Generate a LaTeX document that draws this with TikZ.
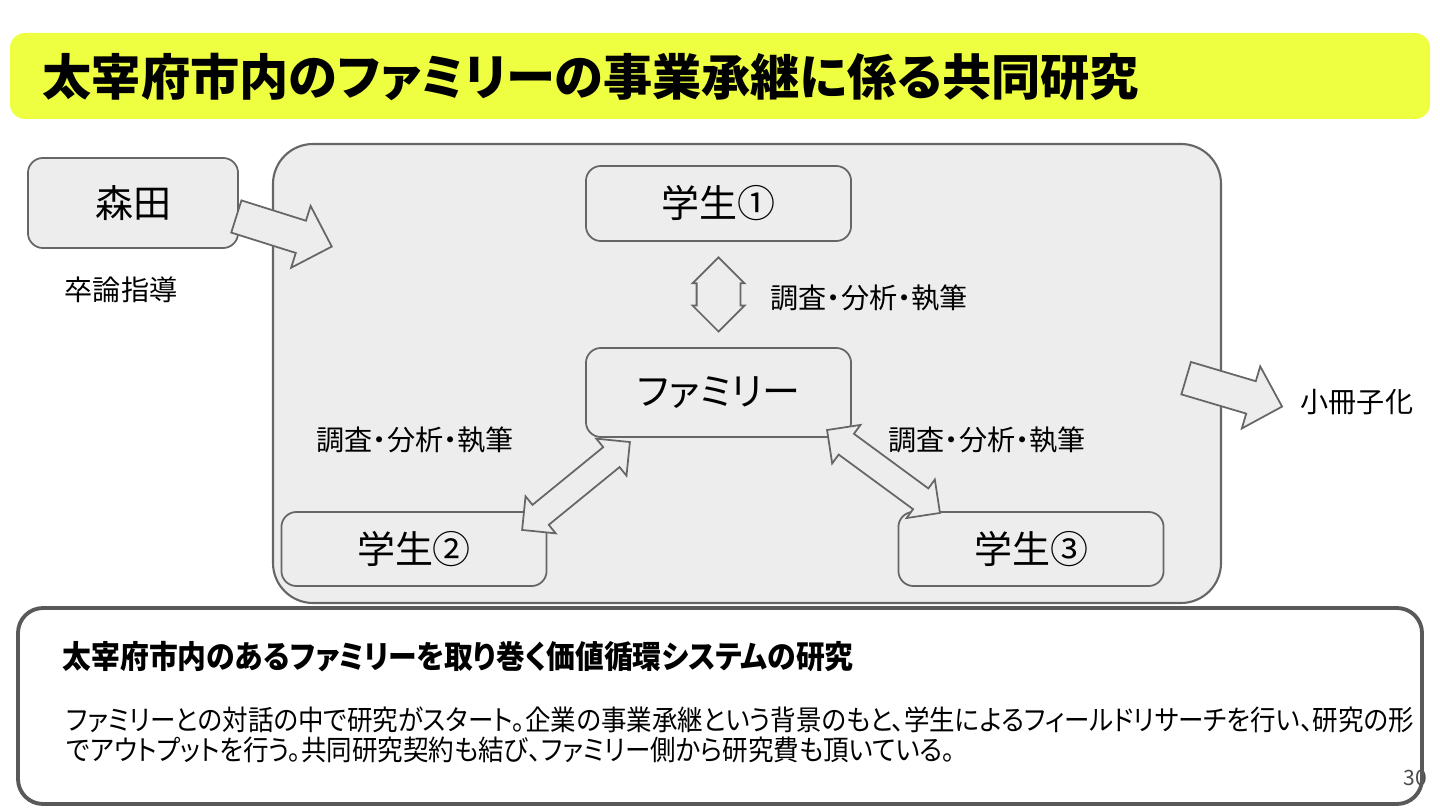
\documentclass[tikz,border=0pt]{standalone}
\usepackage{fontspec}
\setmainfont{Noto Sans CJK JP}[RawFeature=+palt]
\newfontfamily\narrowfont{Noto Sans CJK JP}[RawFeature=+palt,FakeStretch=0.91]
\usetikzlibrary{shapes.arrows,calc}

\begin{document}
\begin{tikzpicture}[x=0.01cm,y=-0.01cm,
  box/.style={draw=edge,fill=pane,line width=0.5pt,rounded corners=0.15cm,
    minimum width=2.65cm,minimum height=0.75cm,font=\fontsize{10.8}{12}\selectfont},
  say/.style={inner sep=0pt,font=\fontsize{8}{9}\selectfont},
  fat/.style={single arrow,draw=edge,fill=pane,line width=0.5pt,inner xsep=0pt,inner ysep=0.16cm,
    minimum height=1cm,single arrow head extend=0.155cm},
  both/.style={double arrow,draw=edge,fill=pane,line width=0.5pt,inner xsep=0pt}]
  \definecolor{band}{RGB}{238,255,65}
  \colorlet{pane}{black!7}
  \colorlet{edge}{black!60}
  \colorlet{frame}{black!65}

  \useasboundingbox (0,0) rectangle (1440,810);

  % title band
  \fill[band,rounded corners=0.15cm] (10,33) rectangle (1430,119);
  \node[anchor=west,inner sep=0pt,font=\fontsize{14}{16}\selectfont\bfseries] (title) at (42,77)
    {太宰府市内のファミリーの事業承継に係る共同研究};

  % the project frame and who is in it
  \draw[edge,fill=pane,line width=0.6pt,rounded corners=0.4cm] (273,144) rectangle (1221,603);
  \node[box,minimum width=2.1cm,minimum height=0.9cm] (morita) at (133,203) {森田};
  \node[say] (thesis) at (121,290) {卒論指導};
  \node[box] (stu1) at (718.5,203.5) {学生①};
  \node[box,minimum height=0.89cm] (family) at (718.5,392.5) {ファミリー};
  \node[box,minimum height=0.74cm] (stu2) at (414,549) {学生②};
  \node[box,minimum height=0.74cm] (stu3) at (1031,549) {学生③};

  % block arrows
  \node[fat,rotate=-17.5] (guide) at (276,229) {};
  \node[fat,rotate=-16.5] (print) at (1226,390) {};
  \node[both,rotate=90,minimum height=0.74cm,inner ysep=0.21cm,double arrow head extend=0.04cm]
    (link1) at ($(stu1.south)!0.5!(family.north)$) {};
  \node[both,rotate=39.2,minimum height=1.39cm,inner ysep=0.12cm,double arrow head extend=0.11cm]
    (link2) at (576,486) {};
  \node[both,rotate=-36.3,minimum height=1.4cm,inner ysep=0.12cm,double arrow head extend=0.11cm]
    (link3) at (883.5,471.5) {};
  \node[say,anchor=west] (work1) at (770,298) {調査・分析・執筆};
  \node[say,anchor=west] (work2) at (316,440) {調査・分析・執筆};
  \node[say,anchor=west] (work3) at (888,440) {調査・分析・執筆};
  \node[say,anchor=west] (book) at (1300,402) {小冊子化};

  % summary
  \fill[white,rounded corners=0.25cm] (18,608) rectangle (1422,804);
  \node[anchor=east,inner sep=0pt,text=black!70,font=\fontsize{6}{7}\selectfont] (page) at (1428,778) {30};
  \draw[frame,line width=1.1pt,rounded corners=0.25cm] (18,608) rectangle (1422,804);
  \node[anchor=west,inner sep=0pt,font=\narrowfont\fontsize{9}{10}\selectfont\bfseries] (topic) at (62,657)
    {太宰府市内のあるファミリーを取り巻く価値循環システムの研究};
  \node[anchor=north west,align=left,inner sep=0pt,font=\narrowfont\fontsize{7.97}{8.6}\selectfont] (story) at (66,706)
    {ファミリーとの対話の中で研究がスタート。企業の事業承継という背景のもと、学生によるフィールドリサーチを行い、研究の形\\
     でアウトプットを行う。共同研究契約も結び、ファミリー側から研究費も頂いている。};
\end{tikzpicture}
\end{document}
